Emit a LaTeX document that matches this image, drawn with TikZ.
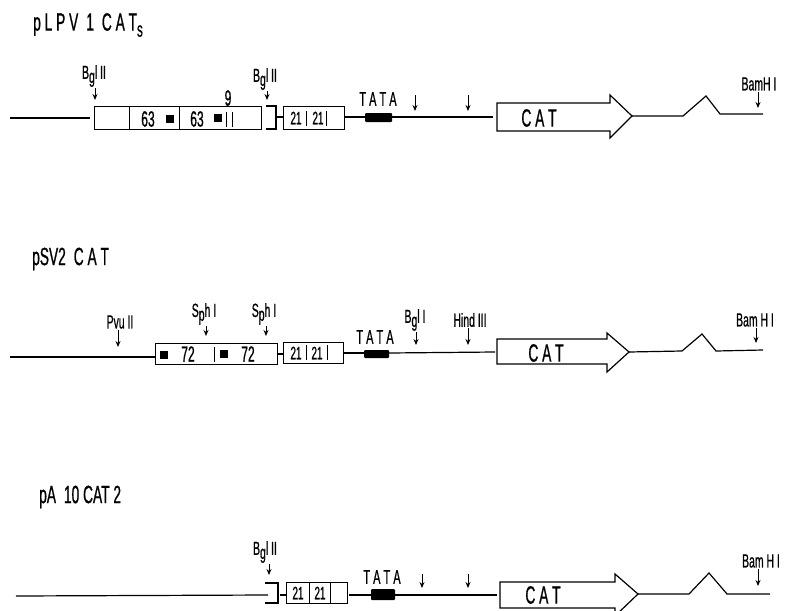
\documentclass[tikz,border=0pt]{standalone}
\usepackage{fontspec}
\usetikzlibrary{arrows.meta}
\newfontfamily\mapfont[FakeStretch=0.55,FakeBold=0.7]{Liberation Sans}
\newcommand{\dn}[2]{\raisebox{-#1pt}{#2}}
\tikzset{
    title/.style={anchor=west,inner sep=0pt,font=\mapfont\fontsize{25}{25}\selectfont},
    sitelabel/.style={inner sep=1pt,font=\mapfont\fontsize{19}{19}\selectfont},
    tatalabel/.style={inner sep=0pt,font=\mapfont\fontsize{20}{20}\selectfont},
    catlabel/.style={inner sep=0pt,font=\mapfont\fontsize{25}{25}\selectfont},
    numlabel/.style={inner sep=0pt,font=\mapfont\fontsize{22}{22}\selectfont},
    smalllabel/.style={inner sep=0pt,font=\mapfont\fontsize{18}{18}\selectfont},
    seq/.style={line width=1.2pt},
    tick/.style={line width=0.8pt},
    site/.style={line width=0.9pt,-{Stealth[length=6pt,width=5pt]}},
    tatabox/.style={fill=black,rounded corners=1pt},
    marksq/.style={fill=black,inner sep=0pt,minimum size=7.5pt},
    repeatbox/.style={draw,line width=1pt,inner sep=0pt},
}
\begin{document}
\begin{tikzpicture}[x=1pt,y=-1pt]
    \useasboundingbox (0,0) rectangle (786,610);

    % pLPV 1 CATs
    \node[title] (lpvName) at (33,25) {p L P V\, 1\, C A T\dn{6}{\fontsize{21}{21}\selectfont s}};
    \draw[seq] (10,118) coordinate (lpvStart) -- (90,118) coordinate (lpvCut);
    \node[repeatbox,minimum width=167pt,minimum height=23pt] (lpvEnh) at (177.5,117.5) {};
    \draw[tick] (129,106) -- (129,129);
    \draw[tick] (179,106) -- (179,129);
    \draw[tick] (226,112) -- (226,127);
    \draw[tick] (232,112) -- (232,127);
    \node[numlabel] (lpvA) at (148,119) {63};
    \node[numlabel] (lpvB) at (197,119) {63};
    \node[marksq] (lpvSqA) at (170,119) {};
    \node[marksq] (lpvSqB) at (218,118) {};
    \node[numlabel] (lpvNine) at (228,98) {9};
    \draw[seq] (266,106) -- (276,106) -- (276,129) -- (266,129);
    \draw[seq] (276,117) -- (283,117);
    \node[repeatbox,minimum width=61pt,minimum height=23pt] (lpvRep) at (313.5,117.5) {};
    \draw[tick] (306,111) -- (306,126);
    \draw[tick] (326,111) -- (326,126);
    \node[smalllabel] (lpvC) at (296,118) {21};
    \node[smalllabel] (lpvD) at (318,118) {21};
    \fill[tatabox] (365,113) rectangle (392,122);
    \node[tatalabel] (lpvTata) at (378,99) {T A T A};
    \draw[seq] (345,117) -- (365,117);
    \draw[seq] (392,117) -- (493,117);
    \draw[seq] (610,103) -- (497,103) -- (497,131) -- (610,131) -- (610,138) -- (632,116) -- (610,95) -- cycle;
    \node[catlabel] (lpvCat) at (539,118) {C A T};
    \draw[seq] (632,116) -- (683,116) -- (706,96) -- (720,114) -- (763,114);

    \node[sitelabel] (lpvBglA) at (94,76) {B\dn{4}{g}l II};
    \coordinate (lpvBglAend) at (95,100);
    \draw[site] (lpvBglA.south -| lpvBglAend) -- (lpvBglAend);
    \node[sitelabel] (lpvBglB) at (265,79) {B\dn{4}{g}l II};
    \coordinate (lpvBglBend) at (267,100);
    \draw[site] (lpvBglB.south -| lpvBglBend) -- (lpvBglBend);
    \coordinate (lpvSiteA) at (415,95);
    \coordinate (lpvSiteAend) at (415,111);
    \draw[site] (lpvSiteA) -- (lpvSiteAend);
    \coordinate (lpvSiteB) at (468,95);
    \coordinate (lpvSiteBend) at (468,111);
    \draw[site] (lpvSiteB) -- (lpvSiteBend);
    \node[sitelabel] (lpvBam) at (759,84) {BamH I};
    \coordinate (lpvBamEnd) at (758,108);
    \draw[site] (lpvBam.south -| lpvBamEnd) -- (lpvBamEnd);

    % pSV2 CAT
    \node[title] (svName) at (32,259) {pSV2\, C A T};
    \node[repeatbox,minimum width=122pt,minimum height=21pt] (svEnh) at (216,353.5) {};
    \draw[seq] (10,357) -- (svEnh.west |- 0,357);
    \draw[tick] (214,347) -- (214,362);
    \node[marksq] (svSqA) at (164,355) {};
    \node[marksq] (svSqB) at (224,354) {};
    \node[numlabel] (svA) at (188,354) {72};
    \node[numlabel] (svB) at (248,354) {72};
    \draw[seq] (277,354) -- (283,354);
    \node[repeatbox,minimum width=60pt,minimum height=21pt] (svRep) at (313,352.5) {};
    \draw[tick] (306,345) -- (306,360);
    \draw[tick] (327,345) -- (327,360);
    \node[smalllabel] (svC) at (296,353) {21};
    \node[smalllabel] (svD) at (317,353) {21};
    \fill[tatabox] (364,350) rectangle (389,358);
    \node[tatalabel] (svTata) at (375,337) {T A T A};
    \draw[seq] (343,353) -- (364,353);
    \draw[seq] (389,353) -- (495,352);
    \draw[seq] (607,339) -- (497,339) -- (497,364) -- (607,364) -- (607,372) -- (629,352) -- (607,333) -- cycle;
    \node[catlabel] (svCat) at (546,353) {C A T};
    \draw[seq] (629,352) -- (682,351) -- (702,334) -- (716,351) -- (763,350);

    \node[sitelabel] (svPvu) at (120,322) {Pvu II};
    \coordinate (svPvuEnd) at (118,347);
    \draw[site] (svPvu.south -| svPvuEnd) -- (svPvuEnd);
    \node[sitelabel] (svSphA) at (204,314) {S\dn{4}{p}h I};
    \coordinate (svSphAend) at (206,336);
    \draw[site] (svSphA.south -| svSphAend) -- (svSphAend);
    \node[sitelabel] (svSphB) at (264,314) {S\dn{4}{p}h I};
    \coordinate (svSphBend) at (266,336);
    \draw[site] (svSphB.south -| svSphBend) -- (svSphBend);
    \node[sitelabel] (svBgl) at (415,320) {B\dn{4}{g}l I};
    \coordinate (svBglEnd) at (416,345);
    \draw[site] (svBgl.south -| svBglEnd) -- (svBglEnd);
    \node[sitelabel] (svHind) at (470,320) {Hind III};
    \coordinate (svHindEnd) at (468,345);
    \draw[site] (svHind.south -| svHindEnd) -- (svHindEnd);
    \node[sitelabel] (svBam) at (755,320) {Bam H I};
    \coordinate (svBamEnd) at (756,343);
    \draw[site] (svBam.south -| svBamEnd) -- (svBamEnd);

    % pA 10 CAT 2
    \node[title] (paName) at (39,497) {pA\, 10 CAT 2};
    \draw[seq] (16,596) -- (268,595);
    \draw[seq] (265,583) -- (278,583) -- (278,603) -- (265,603);
    \draw[seq] (280,595) -- (286,595);
    \node[repeatbox,minimum width=61pt,minimum height=21pt] (paRep) at (316.5,592.5) {};
    \draw[tick] (309,583) -- (309,603);
    \draw[tick] (330,583) -- (330,603);
    \node[smalllabel] (paC) at (298,593) {21};
    \node[smalllabel] (paD) at (320,593) {21};
    \fill[tatabox] (371,589) rectangle (395,600);
    \node[tatalabel] (paTata) at (382,577) {T A T A};
    \draw[seq] (349,595) -- (371,595);
    \draw[seq] (395,595) -- (497,595);
    \begin{scope}
        \clip (0,0) rectangle (786,610);
        \draw[seq] (615,582) -- (500,582) -- (500,608) -- (615,608) -- (615,616) -- (638,594) -- (615,574) -- cycle;
    \end{scope}
    \node[catlabel] (paCat) at (543,595) {C A T};
    \draw[seq] (638,594) -- (689,594) -- (709,573) -- (727,594) -- (770,594);

    \node[sitelabel] (paBgl) at (265,552) {B\dn{4}{g}l II};
    \coordinate (paBglEnd) at (269,575);
    \draw[site] (paBgl.south -| paBglEnd) -- (paBglEnd);
    \coordinate (paSiteA) at (422,574);
    \coordinate (paSiteAend) at (422,588);
    \draw[site] (paSiteA) -- (paSiteAend);
    \coordinate (paSiteB) at (468,574);
    \coordinate (paSiteBend) at (468,588);
    \draw[site] (paSiteB) -- (paSiteBend);
    \node[sitelabel] (paBam) at (761,561) {Bam H I};
    \coordinate (paBamEnd) at (758,586);
    \draw[site] (paBam.south -| paBamEnd) -- (paBamEnd);
\end{tikzpicture}
\end{document}
